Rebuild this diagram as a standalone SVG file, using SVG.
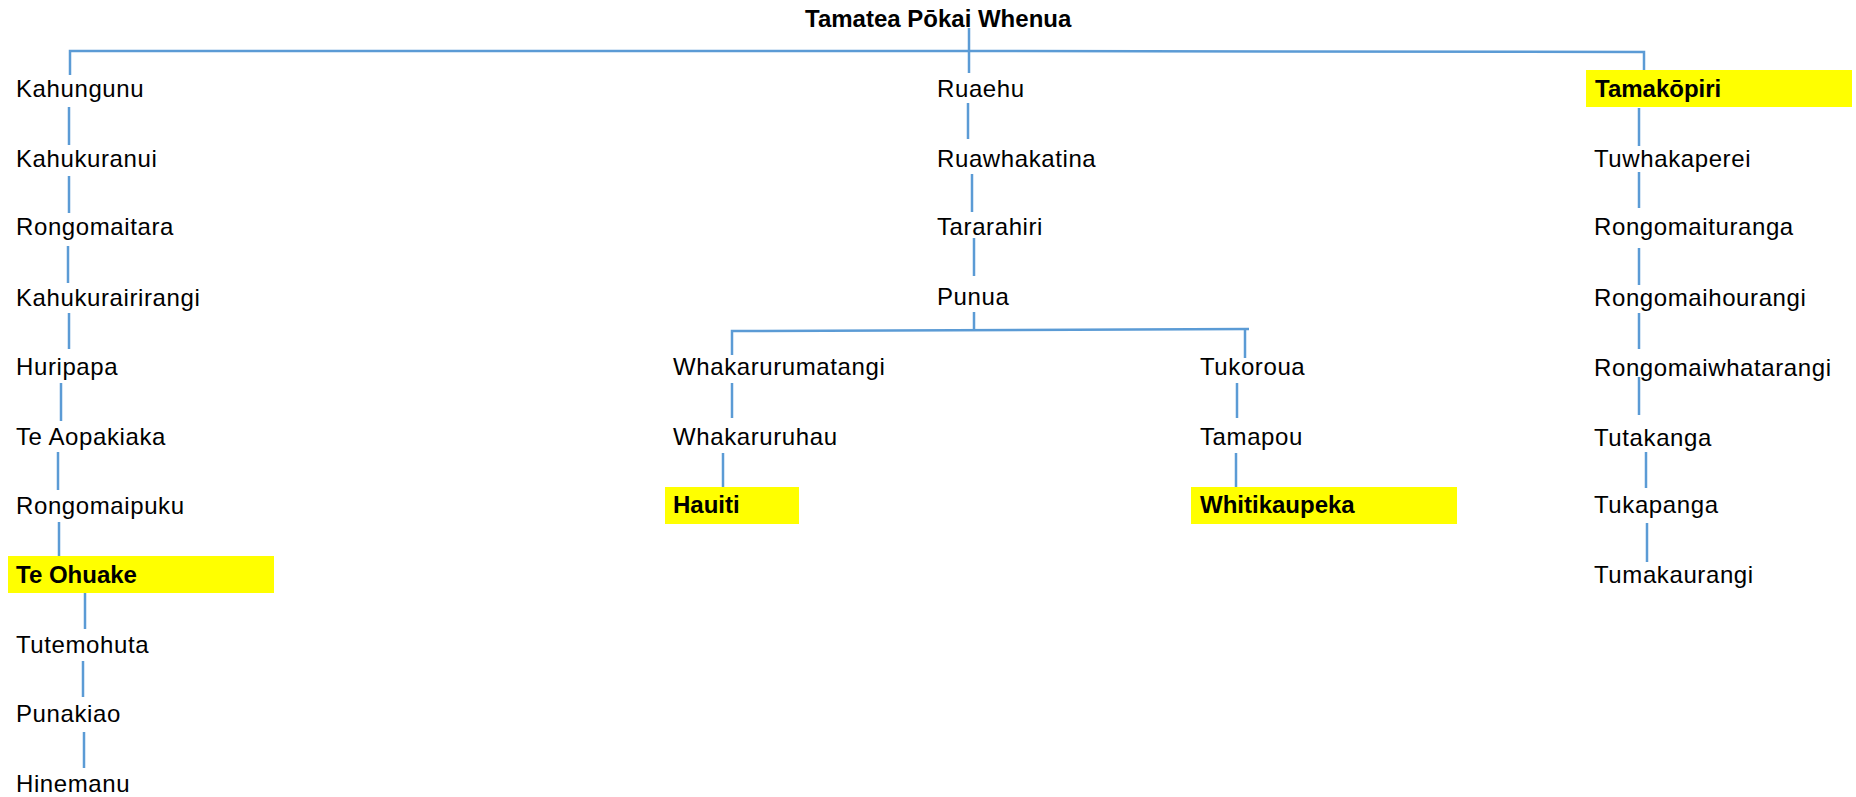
<svg xmlns="http://www.w3.org/2000/svg" width="1856" height="797" viewBox="0 0 1856 797">
<style>
.t{font-family:"Liberation Sans",Arial,sans-serif;font-size:24px;fill:#000;letter-spacing:0.6px}
.b{font-weight:bold;letter-spacing:0}
.hl{fill:#FFFF00}
.c line,.c polyline{stroke:#5B9BD5;stroke-width:2.5;fill:none}
</style>
<rect width="1856" height="797" fill="#fff"/>
<g class="c" id="connectors">
<polyline points="70,75 70,51 969,51 1644,52 1644,80"/>
<line x1="969" y1="28" x2="969" y2="73"/>
<line x1="69" y1="107" x2="69" y2="145"/>
<line x1="69" y1="176" x2="69" y2="213"/>
<line x1="68" y1="246" x2="68" y2="283"/>
<line x1="69" y1="313" x2="69" y2="349"/>
<line x1="61" y1="383" x2="61" y2="421"/>
<line x1="58" y1="452" x2="58" y2="490"/>
<line x1="59" y1="522" x2="59" y2="557"/>
<line x1="85" y1="593" x2="85" y2="629"/>
<line x1="83" y1="661" x2="83" y2="697"/>
<line x1="84" y1="732" x2="84" y2="768"/>
<line x1="968" y1="103" x2="968" y2="139"/>
<line x1="972" y1="174" x2="972" y2="212"/>
<line x1="974" y1="238" x2="974" y2="276"/>
<line x1="974" y1="312" x2="974" y2="330"/>
<polyline points="732,355 732,331 1249,329"/>
<line x1="1245" y1="329" x2="1245" y2="358"/>
<line x1="732" y1="383" x2="732" y2="418"/>
<line x1="723" y1="453" x2="723" y2="488"/>
<line x1="1237" y1="383" x2="1237" y2="418"/>
<line x1="1236" y1="453" x2="1236" y2="490"/>
<line x1="1639" y1="108" x2="1639" y2="146"/>
<line x1="1639" y1="172" x2="1639" y2="208"/>
<line x1="1639" y1="248" x2="1639" y2="285"/>
<line x1="1639" y1="313" x2="1639" y2="349"/>
<line x1="1639" y1="377" x2="1639" y2="415"/>
<line x1="1646" y1="452" x2="1646" y2="488"/>
<line x1="1647" y1="523" x2="1647" y2="562"/>
</g>
<g id="n-root"><text class="t b" x="805" y="27">Tamatea Pōkai Whenua</text></g>
<g id="n-kahungunu"><text class="t" x="16" y="97">Kahungunu</text></g>
<g id="n-kahukuranui"><text class="t" x="16" y="167">Kahukuranui</text></g>
<g id="n-rongomaitara"><text class="t" x="16" y="235">Rongomaitara</text></g>
<g id="n-kahukurairirangi"><text class="t" x="16" y="306">Kahukurairirangi</text></g>
<g id="n-huripapa"><text class="t" x="16" y="375">Huripapa</text></g>
<g id="n-teaopakiaka"><text class="t" x="16" y="445">Te Aopakiaka</text></g>
<g id="n-rongomaipuku"><text class="t" x="16" y="514">Rongomaipuku</text></g>
<g id="n-teohuake"><rect class="hl" x="8" y="556" width="266" height="37"/><text class="t b" x="16" y="583">Te Ohuake</text></g>
<g id="n-tutemohuta"><text class="t" x="16" y="653">Tutemohuta</text></g>
<g id="n-punakiao"><text class="t" x="16" y="722">Punakiao</text></g>
<g id="n-hinemanu"><text class="t" x="16" y="792">Hinemanu</text></g>
<g id="n-ruaehu"><text class="t" x="937" y="97">Ruaehu</text></g>
<g id="n-ruawhakatina"><text class="t" x="937" y="167">Ruawhakatina</text></g>
<g id="n-tararahiri"><text class="t" x="937" y="235">Tararahiri</text></g>
<g id="n-punua"><text class="t" x="937" y="305">Punua</text></g>
<g id="n-whakarurumatangi"><text class="t" x="673" y="375">Whakarurumatangi</text></g>
<g id="n-whakaruruhau"><text class="t" x="673" y="445">Whakaruruhau</text></g>
<g id="n-hauiti"><rect class="hl" x="665" y="487" width="134" height="37"/><text class="t b" x="673" y="513">Hauiti</text></g>
<g id="n-tukoroua"><text class="t" x="1200" y="375">Tukoroua</text></g>
<g id="n-tamapou"><text class="t" x="1200" y="445">Tamapou</text></g>
<g id="n-whitikaupeka"><rect class="hl" x="1191" y="487" width="266" height="37"/><text class="t b" x="1200" y="513">Whitikaupeka</text></g>
<g id="n-tamakopiri"><rect class="hl" x="1586" y="70" width="266" height="37"/><text class="t b" x="1595" y="97">Tamakōpiri</text></g>
<g id="n-tuwhakaperei"><text class="t" x="1594" y="167">Tuwhakaperei</text></g>
<g id="n-rongomaituranga"><text class="t" x="1594" y="235">Rongomaituranga</text></g>
<g id="n-rongomaihourangi"><text class="t" x="1594" y="306">Rongomaihourangi</text></g>
<g id="n-rongomaiwhatarangi"><text class="t" x="1594" y="376">Rongomaiwhatarangi</text></g>
<g id="n-tutakanga"><text class="t" x="1594" y="446">Tutakanga</text></g>
<g id="n-tukapanga"><text class="t" x="1594" y="513">Tukapanga</text></g>
<g id="n-tumakaurangi"><text class="t" x="1594" y="583">Tumakaurangi</text></g>
</svg>
